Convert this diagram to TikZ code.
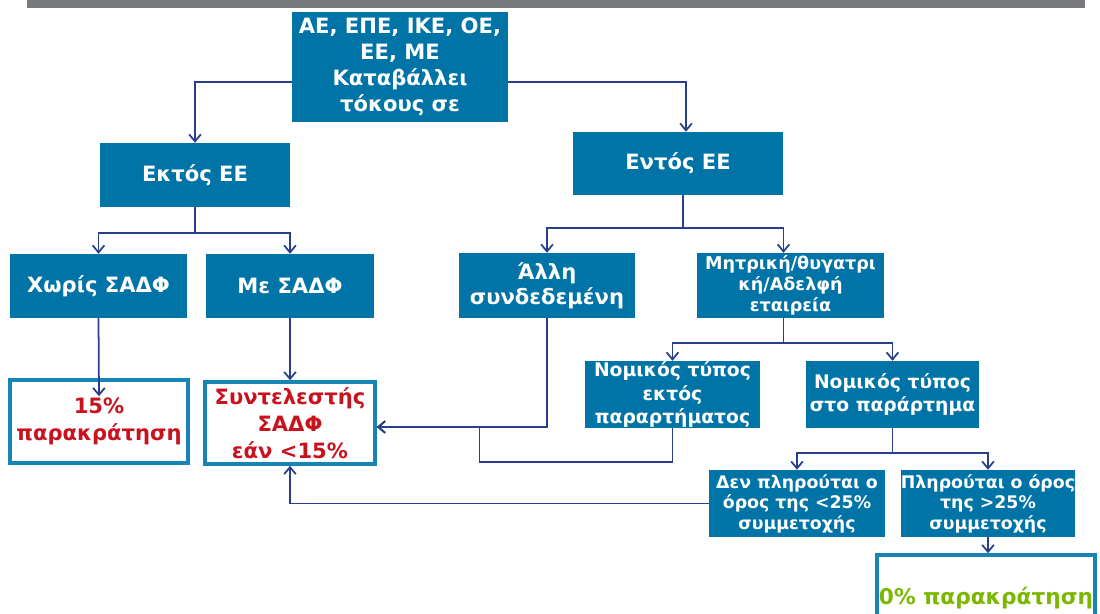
\documentclass[tikz,border=0pt]{standalone}
\usepackage{fontspec}
\setmainfont{DejaVu Sans}
\usetikzlibrary{arrows.meta, calc}
\usepackage{xcolor}
\definecolor{boxblue}{RGB}{0,116,166}
\definecolor{edgeblue}{RGB}{22,132,180}
\definecolor{linenavy}{RGB}{40,62,142}
\definecolor{taxred}{RGB}{200,18,30}
\definecolor{zerogreen}{RGB}{122,184,0}
\definecolor{bargray}{RGB}{119,121,124}

\begin{document}
\begin{tikzpicture}[
        x=0.03cm, y=-0.03cm,
        bluebox/.style={fill=boxblue, text=white, align=center, inner sep=0pt, font=\bfseries\fontsize{18}{21}\selectfont},
        smallbox/.style={bluebox, font=\bfseries\fontsize{15}{18}\selectfont},
        midbox/.style={bluebox, font=\bfseries\fontsize{16}{20}\selectfont},
        condbox/.style={bluebox, font=\bfseries\fontsize{14.8}{17.5}\selectfont},
        resultbox/.style={draw=edgeblue, line width=3pt, fill=white, align=center, inner sep=0pt, font=\bfseries\fontsize{18}{23}\selectfont},
        arrow/.style={-{Straight Barb[length=6pt,width=10pt]}, line width=1.5pt, draw=linenavy}
    ]
    \useasboundingbox (0,0) rectangle (1100,613);
    \fill[bargray] (27,0) rectangle (1085,8);

    \node[bluebox, font=\bfseries\fontsize{18}{22}\selectfont, minimum width=6.48cm, minimum height=3.3cm] (firm) at (400,67) {ΑΕ, ΕΠΕ, ΙΚΕ, ΟΕ,\\ΕΕ, ΜΕ\\Καταβάλλει\\τόκους σε};

    \node[bluebox, minimum width=5.7cm, minimum height=1.92cm] (outEU) at (195,175) {Εκτός ΕΕ};
    \node[bluebox, minimum width=6.3cm, minimum height=1.89cm] (inEU) at (678,163.5) {Εντός ΕΕ};

    \node[bluebox, minimum width=5.31cm, minimum height=1.92cm] (noDTT) at (98.5,286) {Χωρίς ΣΑΔΦ};
    \node[bluebox, minimum width=5.04cm, minimum height=1.92cm] (withDTT) at (290,286) {Με ΣΑΔΦ};
    \node[bluebox, minimum width=5.28cm, minimum height=1.95cm] (other) at (547,285.5) {Άλλη\\συνδεδεμένη};
    \node[smallbox, minimum width=5.61cm, minimum height=1.95cm] (parent) at (790.5,285.5) {Μητρική/θυγατρι\\κή/Αδελφή\\εταιρεία};

    \node[resultbox, text=taxred, minimum width=5.34cm, minimum height=2.49cm] (rate15) at (99,421.5) {15\%\\παρακράτηση};
    \node[resultbox, text=taxred, minimum width=5.1cm, minimum height=2.46cm] (rateDTT) at (290,423) {Συντελεστής\\ΣΑΔΦ\\εάν <15\%};

    \node[midbox, minimum width=5.25cm, minimum height=2.01cm] (formOut) at (672.5,394.5) {Νομικός τύπος\\εκτός\\παραρτήματος};
    \node[midbox, minimum width=5.19cm, minimum height=2.01cm] (formIn) at (892.5,394.5) {Νομικός τύπος\\στο παράρτημα};

    \node[condbox, minimum width=5.28cm, minimum height=2.01cm] (under25) at (797,503.5) {Δεν πληρούται ο\\όρος της <25\%\\συμμετοχής};
    \node[condbox, minimum width=5.22cm, minimum height=2.01cm] (over25) at (988,503.5) {Πληρούται ο όρος\\της >25\%\\συμμετοχής};

    \node[resultbox, text=zerogreen, font=\bfseries\fontsize{18.5}{23}\selectfont, minimum width=6.54cm, minimum height=2.58cm] (rate0) at (986,598) {0\% παρακράτηση};

    % first split
    \draw[arrow] ($(firm.west)+(0,15)$) -| (outEU.north);
    \draw[arrow] ($(firm.east)+(0,15)$) -| ($(inEU.north)+(8,0)$);

    % outside the EU
    \draw[arrow] (outEU.south) -- ++(0,26) -| (noDTT.north);
    \draw[arrow] (outEU.south) -- ++(0,26) -| (withDTT.north);
    \draw[arrow] (noDTT.south) -- ($(rate15.north)+(0,18)$);
    \draw[arrow] (withDTT.south) -- (rateDTT.north);

    % inside the EU
    \draw[arrow] ($(inEU.south)+(5,0)$) -- ++(0,33) -| (other.north);
    \draw[arrow] ($(inEU.south)+(5,0)$) -- ++(0,33) -| ($(parent.north)+(-7,0)$);
    \draw[arrow] (other.south) |- ($(rateDTT.east)+(0,4)$);
    \draw[arrow] (formOut.south) -- ++(0,34) -- ++(-193,0) |- ($(rateDTT.east)+(0,4)$);
    \draw[arrow] ($(parent.south)+(-7,0)$) -- ++(0,25) -| (formOut.north);
    \draw[arrow] ($(parent.south)+(-7,0)$) -- ++(0,25) -| (formIn.north);
    \draw[arrow] (formIn.south) -- ++(0,25) -| (under25.north);
    \draw[arrow] (formIn.south) -- ++(0,25) -| (over25.north);
    \draw[arrow] (under25.west) -| (rateDTT.south);
    \draw[arrow] (over25.south) -- (over25.south |- rate0.north);

\end{tikzpicture}
\end{document}
